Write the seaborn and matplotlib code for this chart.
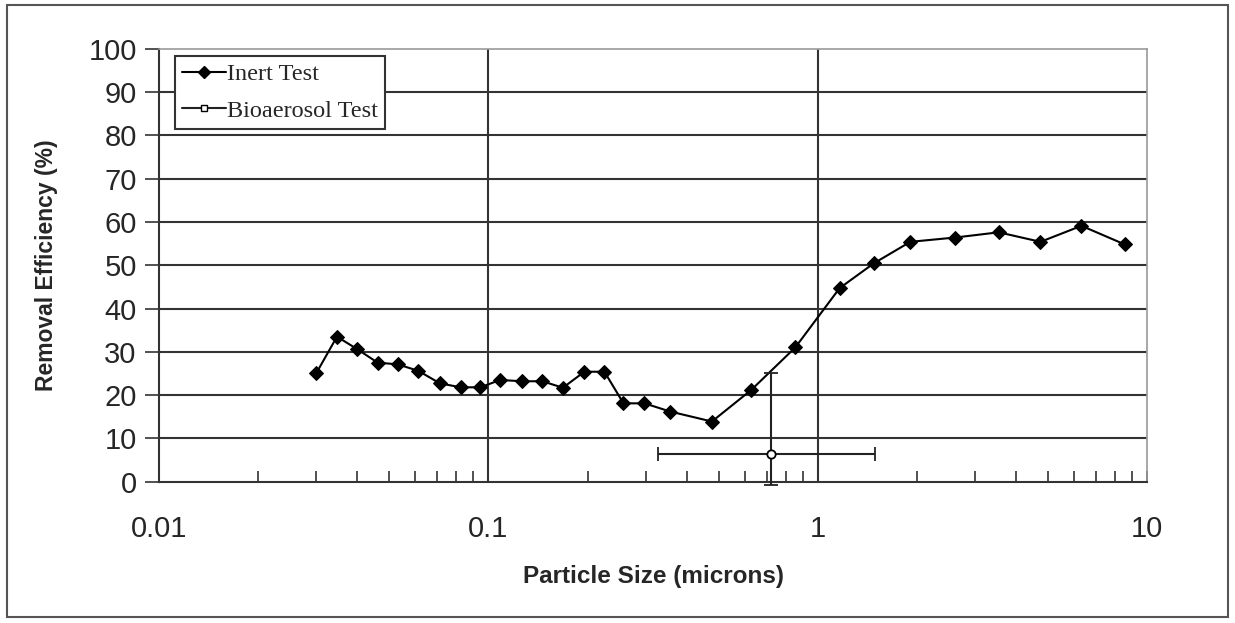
import matplotlib
matplotlib.use("Agg")
import matplotlib.pyplot as plt
from matplotlib.patches import Rectangle
from matplotlib.lines import Line2D
from matplotlib.ticker import LogLocator, NullFormatter
import seaborn as sns
import pandas as pd

# inert test, particle size (microns) vs removal efficiency (%)
inert_size = [0.030, 0.0347, 0.040, 0.0461, 0.0531, 0.0613, 0.0713, 0.0825, 0.0946,
              0.1085, 0.1263, 0.1459, 0.1683, 0.1956, 0.2250, 0.2570, 0.2977, 0.3563,
              0.4770, 0.628, 0.854, 1.164, 1.476, 1.908, 2.615, 3.54, 4.74, 6.31, 8.54]
inert_eff = [25.0, 33.5, 30.6, 27.5, 27.1, 25.6, 22.7, 21.8, 21.8,
             23.5, 23.2, 23.2, 21.7, 25.4, 25.4, 18.1, 18.1, 16.2,
             13.9, 21.2, 31.0, 44.7, 50.4, 55.4, 56.4, 57.6, 55.4, 59.1, 54.8]

# bioaerosol test, single point with error bars
bio_size = [0.722]
bio_eff = [6.3]
bio_size_lo = [0.328]
bio_size_hi = [1.494]
bio_eff_lo = [-0.8]
bio_eff_hi = [25.2]

df_inert = pd.DataFrame({"size": inert_size, "eff": inert_eff})

sns.set_style("white")
plt.rcParams["font.family"] = ["Liberation Sans", "DejaVu Sans"]

fig = plt.figure(figsize=(12.35, 6.23), dpi=100)
ax = fig.add_axes([0.1287, 0.2268, 0.8003, 0.695])

grid_col = "#333333"
for yv in range(10, 100, 10):
    ax.axhline(yv, color=grid_col, lw=1.5, zorder=1)
for xv in [0.1, 1]:
    ax.axvline(xv, color=grid_col, lw=1.5, zorder=1)

sns.lineplot(data=df_inert, x="size", y="eff", ax=ax, color="black", lw=1.5,
             marker="D", markersize=7.5, markeredgecolor="black", sort=False, zorder=3)

xerr = [[bio_size[0] - bio_size_lo[0]], [bio_size_hi[0] - bio_size[0]]]
yerr = [[bio_eff[0] - bio_eff_lo[0]], [bio_eff_hi[0] - bio_eff[0]]]
eb = ax.errorbar(bio_size, bio_eff, xerr=xerr, yerr=yerr, fmt="o", ms=6,
                 mfc="white", mec="black", mew=1.3, ecolor="#222222", elinewidth=1.5,
                 capsize=5, capthick=1.5, zorder=4)
for art in eb.lines[1] + eb.lines[2]:
    art.set_clip_on(False)

ax.set_xscale("log")
ax.set_xlim(0.01, 10)
ax.set_ylim(0, 100)
ax.set_xticks([0.01, 0.1, 1, 10])
ax.set_xticklabels(["0.01", "0.1", "1", "10"])
ax.xaxis.set_minor_locator(LogLocator(base=10, subs=range(2, 10)))
ax.xaxis.set_minor_formatter(NullFormatter())
ax.set_yticks(range(0, 101, 10))

ax.tick_params(axis="x", which="both", direction="in", length=8, width=1.2,
               color="#333333", labelsize=21, pad=24, bottom=True)
ax.tick_params(axis="y", direction="out", length=10, width=1.2, color="#333333",
               labelsize=21, pad=6, left=True)

for side in ["left", "bottom"]:
    ax.spines[side].set_color("#333333")
    ax.spines[side].set_linewidth(1.5)
for side in ["top", "right"]:
    ax.spines[side].set_color("#9a9a9a")
    ax.spines[side].set_linewidth(1.2)

ax.set_xlabel("Particle Size (microns)", fontsize=17.5, fontweight="bold", labelpad=16)
ax.set_ylabel("Removal Efficiency (%)", fontsize=16.5, fontweight="bold", labelpad=22)

handles = [
    Line2D([], [], color="black", lw=1.5, marker="D", markersize=6.5),
    Line2D([], [], color="#222222", lw=1.5, marker="s", markersize=5,
           mfc="white", mec="black"),
]
leg = ax.legend(handles, ["Inert Test", "Bioaerosol Test"], loc="upper left",
                bbox_to_anchor=(0.016, 0.983), borderaxespad=0, fancybox=False,
                framealpha=1, edgecolor="#333333", handlelength=1.8, handletextpad=0.05,
                labelspacing=0.6, borderpad=0.3,
                prop={"family": ["Liberation Serif", "DejaVu Serif"], "size": 17.5})
leg.get_frame().set_linewidth(1.5)

fig.patches.append(Rectangle((0.0057, 0.0096), 0.9886, 0.9824, transform=fig.transFigure,
                             fill=False, edgecolor="#555555", lw=1.5))

fig.savefig("out.png", dpi=100)
